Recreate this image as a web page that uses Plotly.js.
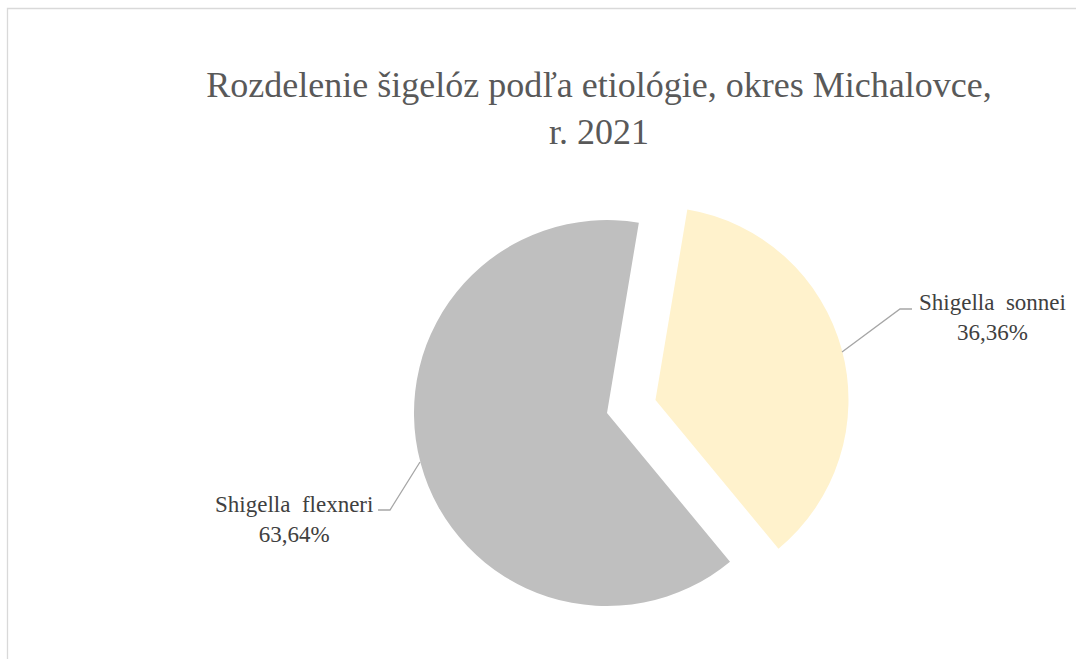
<!DOCTYPE html>
<html>
<head>
<meta charset="utf-8">
<script src="https://cdn.plot.ly/plotly-3.0.1.min.js"></script>
<style>html,body{margin:0;padding:0;background:#fff;}#chart{width:1076px;height:659px;}</style>
</head>
<body>
<div id="chart"></div>
<script>
const chartTitle = 'Rozdelenie šigelóz podľa etiológie, okres Michalovce,<br>r. 2021';
const categories = ['Shigella\u00a0\u00a0sonnei', 'Shigella\u00a0\u00a0flexneri'];
const counts = [4, 7];
const sliceColors = ['#fff2cc', '#bfbfbf'];
const pulls = [0.26, 0];

const W = 1076, H = 659;
const px = x => x / W;
const py = y => 1 - y / H;
const FONT = '"Times New Roman", "Liberation Serif", serif';

const total = counts.reduce((a, b) => a + b, 0);
const pctText = counts.map(v => (v / total * 100).toFixed(2).replace('.', ',') + '%');

const labelPos = [[993, 317], [294, 519]];
const leaders = [
  [[842, 352], [900, 309], [912, 309]],
  [[420, 462], [390, 510], [378, 510]]
];

const trace = {
  type: 'pie',
  labels: categories,
  values: counts,
  sort: false,
  direction: 'clockwise',
  rotation: 9.5,
  pull: pulls,
  marker: {colors: sliceColors, line: {width: 0}},
  textinfo: 'none',
  hoverinfo: 'label+percent',
  showlegend: false,
  domain: {x: [px(607 - 243.2), px(607 + 243.2)], y: [py(413 + 243.2), py(413 - 243.2)]}
};

const annotations = categories.map((c, i) => ({
  xref: 'paper', yref: 'paper',
  x: px(labelPos[i][0]), y: py(labelPos[i][1]),
  xanchor: 'center', yanchor: 'middle',
  text: c + '<br>' + pctText[i],
  showarrow: false,
  font: {family: FONT, size: 23, color: '#404040'}
}));

const shapes = leaders.map(pts => ({
  type: 'path', xref: 'paper', yref: 'paper',
  path: 'M ' + pts.map(p => px(p[0]) + ',' + py(p[1])).join(' L '),
  line: {color: '#a6a6a6', width: 1.3}
}));
shapes.push({
  type: 'rect', xref: 'paper', yref: 'paper',
  x0: px(7.5), y0: py(H + 10), x1: px(W + 10), y1: py(8.5),
  line: {color: '#d9d9d9', width: 1.3}, fillcolor: 'rgba(0,0,0,0)'
});

const layout = {
  width: W, height: H,
  margin: {l: 0, r: 0, t: 0, b: 0},
  paper_bgcolor: '#ffffff',
  separators: ', ',
  font: {family: FONT},
  title: {
    text: chartTitle,
    font: {family: FONT, size: 36, color: '#595959'},
    x: px(599), xref: 'paper', xanchor: 'center',
    y: py(97), yref: 'container', yanchor: 'top'
  },
  annotations: annotations,
  shapes: shapes
};

Plotly.newPlot('chart', [trace], layout, {displayModeBar: false, staticPlot: true});
</script>
</body>
</html>
